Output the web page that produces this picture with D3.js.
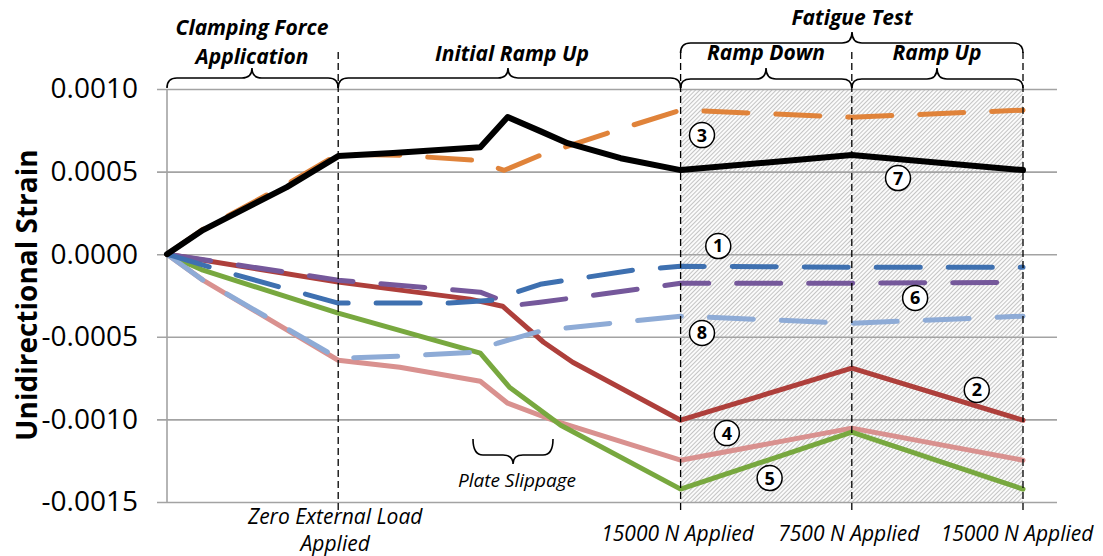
<!DOCTYPE html>
<html><head><meta charset="utf-8">
<script src="https://cdn.jsdelivr.net/npm/d3@7"></script>
<style>body{margin:0;background:#fff}svg{display:block}</style>
</head><body>
<svg id="c" width="1103" height="556"></svg>
<script>
// ---- data ----
const yTicks = [0.0010, 0.0005, 0.0000, -0.0005, -0.0010, -0.0015];
const xTickPos = [1, 3, 4, 5];
const xTickLabels = [["Zero External Load", "Applied"], ["15000 N Applied"], ["7500 N Applied"], ["15000 N Applied"]];

// series: x = load stage position, v = strain
const s1x = [0, 0.43, 1.0, 1.65, 1.90, 2.18, 2.72, 3.0, 4.0, 5.0];
const s1v = [0, -0.000133, -0.000296, -0.000296, -0.000278, -0.000182, -0.000097, -0.000073, -0.000079, -0.000079];
const s2x = [0, 1.0, 1.77, 1.96, 2.20, 2.37, 3.0, 4.0, 5.0];
const s2v = [0, -0.000169, -0.000272, -0.000315, -0.000533, -0.000654, -0.001005, -0.000690, -0.001005];
const s3x = [0, 0.21, 0.70, 1.0, 1.36, 1.79, 1.97, 2.18, 2.57, 3.0, 4.0, 5.0];
const s3v = [0, 0.000151, 0.000424, 0.000605, 0.000599, 0.000569, 0.000508, 0.000599, 0.000732, 0.000872, 0.000829, 0.000872];
const s4x = [0, 0.21, 1.0, 1.36, 1.83, 1.99, 2.27, 3.0, 4.0, 5.0];
const s4v = [0, -0.000157, -0.000642, -0.000684, -0.000769, -0.000902, -0.001011, -0.001247, -0.001053, -0.001247];
const s5x = [0, 0.21, 1.0, 1.83, 2.0, 2.30, 3.0, 4.0, 5.0];
const s5v = [0, -0.000097, -0.000357, -0.000599, -0.000805, -0.001035, -0.001422, -0.001077, -0.001422];
const s6x = [0, 1.0, 1.83, 2.03, 2.18, 2.75, 3.0, 4.0, 5.0];
const s6v = [0, -0.000157, -0.000230, -0.000309, -0.000291, -0.000212, -0.000176, -0.000176, -0.000170];
const s7x = [0, 0.21, 0.70, 1.0, 1.32, 1.83, 1.99, 2.18, 2.34, 2.65, 3.0, 4.0, 5.0];
const s7v = [0, 0.000146, 0.000406, 0.000594, 0.000612, 0.000648, 0.000830, 0.000745, 0.000672, 0.000581, 0.000509, 0.000600, 0.000509];
const s8x = [0, 0.21, 1.0, 1.36, 1.79, 1.93, 2.20, 3.0, 4.0, 5.0];
const s8v = [0, -0.000157, -0.000630, -0.000618, -0.000593, -0.000539, -0.000460, -0.000375, -0.000418, -0.000375];

const labelIds = ["1", "2", "3", "4", "5", "6", "7", "8"];
const labelX = [3.22, 4.73, 3.125, 3.27, 3.52, 4.37, 4.27, 3.125];
const labelV = [0.0000496, -0.000822, 0.000721, -0.001083, -0.001355, -0.000265, 0.000461, -0.000477];

// ---- styles ----
const series = [
  {x: s4x, v: s4v, color: "#d9918f", dash: false, w: 5},
  {x: s2x, v: s2v, color: "#ae3f3b", dash: false, w: 5},
  {x: s5x, v: s5v, color: "#78a83f", dash: false, w: 5},
  {x: s8x, v: s8v, color: "#8eabd6", dash: true, w: 5},
  {x: s6x, v: s6v, color: "#75589b", dash: true, w: 5},
  {x: s1x, v: s1v, color: "#3e70b0", dash: true, w: 5},
  {x: s3x, v: s3v, color: "#e0833a", dash: true, w: 5},
  {x: s7x, v: s7v, color: "#000000", dash: false, w: 6}
];

const svg = d3.select("#c");
const x = d3.scaleLinear().domain([0, 5]).range([167, 1023]);
const y = d3.scaleLinear().domain([-0.0015, 0.0010]).range([502, 89]);
const FONT = "'Open Sans', 'DejaVu Sans', sans-serif";

// hatch pattern
const defs = svg.append("defs");
const pat = defs.append("pattern").attr("id", "hatch").attr("patternUnits", "userSpaceOnUse")
  .attr("width", 3).attr("height", 3).attr("patternTransform", "rotate(45)");
pat.append("rect").attr("width", 3).attr("height", 3).attr("fill", "#fbfbfb");
pat.append("line").attr("x1", 0.5).attr("y1", 0).attr("x2", 0.5).attr("y2", 3)
  .attr("stroke", "#c4c4c4").attr("stroke-width", 1);

svg.append("rect").attr("x", x(3)).attr("y", y(0.0010))
  .attr("width", x(5) - x(3)).attr("height", y(-0.0015) - y(0.0010))
  .attr("fill", "url(#hatch)");

// gridlines + y tick labels
svg.append("g").attr("transform", "translate(157,0)")
  .call(d3.axisLeft(y).tickValues(yTicks).tickSize(-900).tickPadding(19).tickFormat(d => d.toFixed(4)))
  .call(g => g.select(".domain").remove())
  .call(g => g.selectAll("line").attr("stroke", "#a3a3a3").attr("stroke-width", 1.6))
  .call(g => g.selectAll("text").attr("font-family", FONT).attr("font-size", 28).attr("fill", "#000"));

// left axis line
svg.append("line").attr("x1", x(0)).attr("x2", x(0)).attr("y1", y(0.0010)).attr("y2", y(-0.0015))
  .attr("stroke", "#a3a3a3").attr("stroke-width", 1.6);

// series
const line = d3.line().x(d => x(d[0])).y(d => y(d[1]));
series.forEach(s => {
  const pts = s.x.map((xx, i) => [xx, s.v[i]]);
  svg.append("path").datum(pts).attr("d", line)
    .attr("fill", "none").attr("stroke", s.color).attr("stroke-width", s.w)
    .attr("stroke-linejoin", "round").attr("stroke-linecap", "round")
    .attr("stroke-dasharray", s.dash ? "44,28" : null);
});

// dashed verticals
xTickPos.forEach(t => {
  svg.append("line").attr("x1", x(t)).attr("x2", x(t)).attr("y1", 52).attr("y2", 511)
    .attr("stroke", "#000").attr("stroke-width", 1.3).attr("stroke-dasharray", "7,4");
});

// circle labels
labelIds.forEach((id, i) => {
  const g = svg.append("g").attr("transform", `translate(${x(labelX[i])},${y(labelV[i])})`);
  g.append("circle").attr("r", 12.5).attr("fill", "#fff").attr("stroke", "#000").attr("stroke-width", 1.5);
  g.append("text").attr("text-anchor", "middle").attr("dy", "0.36em")
    .attr("font-family", FONT).attr("font-weight", 700).attr("font-size", 18).text(id);
});

// braces
function braceUp(x1, x2, xm, yEnd, yH, yTop, r) {
  return `M${x1},${yEnd} Q${x1},${yH} ${x1 + r},${yH} L${xm - r},${yH} Q${xm},${yH} ${xm},${yTop} ` +
         `Q${xm},${yH} ${xm + r},${yH} L${x2 - r},${yH} Q${x2},${yH} ${x2},${yEnd}`;
}
const braces = [
  braceUp(x(0), x(1), 252, 88, 78, 68, 10),
  braceUp(x(1), x(3), 508, 88, 78, 68, 10),
  braceUp(x(3), x(4), 766, 88, 79, 68, 10),
  braceUp(x(4), x(5), 937, 88, 79, 68, 10),
  braceUp(x(3), x(5), 852, 53, 43, 32, 10),
  braceUp(473, 553, 513, 439, 455, 464, 10)
];
braces.forEach(d => svg.append("path").attr("d", d).attr("fill", "none")
  .attr("stroke", "#000").attr("stroke-width", 1.6));

// header texts
const heads = [
  ["Clamping Force", 252, 28], ["Application", 252, 57], ["Initial Ramp Up", 512, 54],
  ["Fatigue Test", 852, 18], ["Ramp Down", 766, 53], ["Ramp Up", 937, 53]
];
heads.forEach(h => svg.append("text").attr("x", h[1]).attr("y", h[2]).attr("dy", "0.35em")
  .attr("text-anchor", "middle").attr("font-family", FONT).attr("font-weight", 700)
  .attr("font-style", "italic").attr("font-size", 21).text(h[0]));

svg.append("text").attr("x", 517).attr("y", 480).attr("dy", "0.35em").attr("text-anchor", "middle")
  .attr("font-family", FONT).attr("font-style", "italic").attr("font-size", 19).text("Plate Slippage");

// x tick labels
xTickPos.forEach((t, i) => {
  const lines = xTickLabels[i];
  const y0 = lines.length === 2 ? 517 : 534;
  lines.forEach((l, j) => svg.append("text").attr("x", x(t) - (i === 3 ? 6 : 3)).attr("y", y0 + j * 27).attr("dy", "0.35em")
    .attr("text-anchor", "middle").attr("font-family", FONT).attr("font-style", "italic")
    .attr("font-size", 21).text(l));
});

// y title
svg.append("text").attr("transform", "translate(27,295) rotate(-90)").attr("text-anchor", "middle")
  .attr("dy", "0.35em").attr("font-family", FONT).attr("font-weight", 700).attr("font-size", 28)
  .text("Unidirectional Strain");
</script>
</body></html>
